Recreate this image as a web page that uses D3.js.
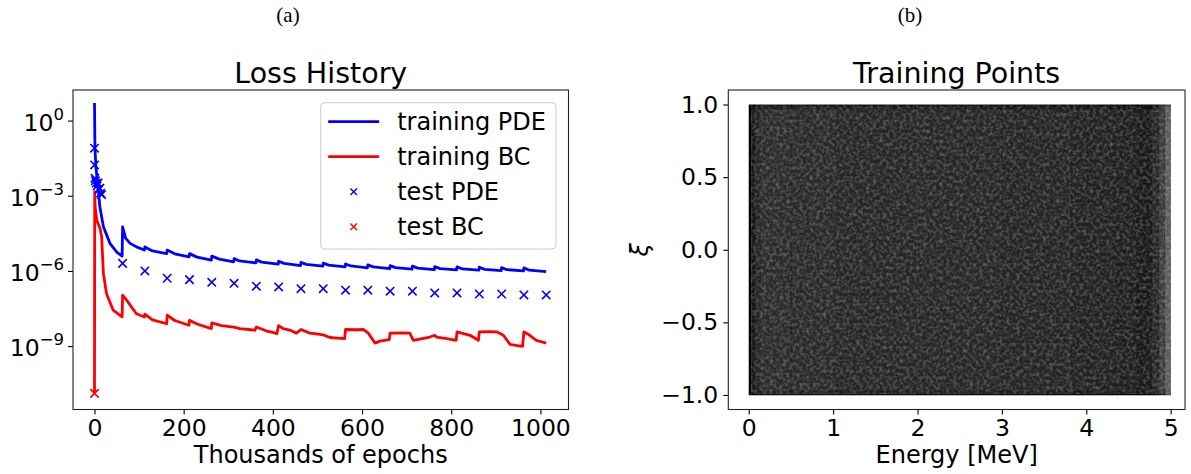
<!DOCTYPE html>
<html>
<head>
<meta charset="utf-8">
<script src="https://cdn.jsdelivr.net/npm/d3@7"></script>
<style>
  body { margin: 0; background: #fff; }
  svg text { font-family: "DejaVu Sans", sans-serif; fill: #000; }
</style>
</head>
<body>
<svg id="fig" width="1191" height="474"></svg>
<script>
// ---- panel (a): loss history, x in thousands of epochs ----
const trainPdeEpochs = [0, 1, 3, 8, 12, 20, 35, 50, 62, 63, 70, 80, 94, 112, 113, 130, 162, 163, 180, 212,
  213, 230, 262, 263, 280, 312, 313, 325, 362, 363, 375, 412, 413, 425, 462, 463, 475, 512,
  513, 525, 562, 563, 575, 612, 613, 625, 662, 663, 675, 712, 713, 725, 762, 763, 775, 812,
  813, 825, 862, 863, 875, 912, 913, 925, 962, 963, 975, 1013];
const trainPdeLoss = [5.0, 9.1e-2, 1.45e-2, 2.3e-3, 3.6e-4, 5.75e-5, 1.23e-5, 5.6e-6, 3.9e-6, 5.75e-5, 2.0e-5, 1.26e-5, 9.1e-6, 6.8e-6, 9.1e-6, 6.3e-6, 4.9e-6, 6.8e-6, 4.8e-6, 3.6e-6,
  4.9e-6, 3.55e-6, 2.7e-6, 3.9e-6, 2.95e-6, 2.3e-6, 3.1e-6, 2.5e-6, 2.1e-6, 2.75e-6, 2.24e-6, 1.86e-6, 2.45e-6, 2.0e-6, 1.62e-6, 2.19e-6, 1.82e-6, 1.55e-6,
  2.04e-6, 1.7e-6, 1.45e-6, 1.9e-6, 1.58e-6, 1.32e-6, 1.74e-6, 1.45e-6, 1.23e-6, 1.62e-6, 1.35e-6, 1.17e-6, 1.55e-6, 1.29e-6, 1.12e-6, 1.48e-6, 1.23e-6, 1.1e-6,
  1.45e-6, 1.2e-6, 1.07e-6, 1.41e-6, 1.15e-6, 1.02e-6, 1.35e-6, 1.12e-6, 1.0e-6, 1.32e-6, 1.07e-6, 9.3e-7];

const trainBcEpochs = [0, 0.5, 1.5, 5, 12.5, 16, 20, 27, 42, 62, 63, 72, 94, 112, 113, 130, 162, 163, 180, 212,
  213, 230, 262, 263, 285, 312, 326, 345, 360, 363, 386, 398, 409, 413, 423, 440, 453, 463, 483, 497, 513, 528, 545, 561,
  563, 585, 603, 614, 629, 640, 661, 663, 690, 707, 715, 735, 752, 763, 767, 790, 811, 813, 842, 861, 863, 885, 902, 917,
  932, 948, 960, 963, 976, 991, 1013];
const trainBcLoss = [1.3e-11, 1.45e-3, 3.6e-4, 1.07e-4, 4.9e-5, 2.3e-5, 7.8e-7, 1.23e-7, 2.7e-8, 1.45e-8, 1.07e-7, 6.8e-8, 1.95e-8, 1.45e-8, 1.9e-8, 1.12e-8, 7.8e-9, 1.7e-8, 1.05e-8, 6.8e-9,
  1.07e-8, 7.6e-9, 5.0e-9, 8.5e-9, 6.6e-9, 5.75e-9, 5.0e-9, 4.6e-9, 4.3e-9, 5.75e-9, 4.0e-9, 3.6e-9, 3.16e-9, 6.6e-9, 5.0e-9, 4.2e-9, 3.3e-9, 4.6e-9, 3.3e-9, 3.1e-9, 2.8e-9, 2.2e-9, 2.1e-9, 2.0e-9,
  4.6e-9, 4.5e-9, 4.6e-9, 3.3e-9, 1.32e-9, 1.58e-9, 1.82e-9, 3.3e-9, 3.4e-9, 3.3e-9, 1.7e-9, 2.0e-9, 2.3e-9, 2.7e-9, 2.3e-9, 2.0e-9, 1.7e-9, 3.7e-9, 2.7e-9, 1.7e-9, 3.7e-9, 3.8e-9, 3.7e-9, 2.7e-9,
  1.17e-9, 1.05e-9, 9.8e-10, 3.7e-9, 2.7e-9, 1.7e-9, 1.32e-9];

const testPdeEpochs = [0, 0.3, 1, 2, 4, 6, 8, 10, 12, 14, 16,
  63, 113, 163, 213, 263, 313, 363, 413, 463, 513, 563, 613, 663, 713, 763, 813, 863, 913, 963, 1013];
const testPdeLoss = [7.9e-2, 1.7e-2, 5.0e-3, 4.0e-3, 3.2e-3, 2.5e-3, 3.2e-3, 1.8e-3, 2.0e-3, 1.26e-3, 1.1e-3,
  2.0e-6, 1.0e-6, 5.1e-7, 4.5e-7, 3.5e-7, 3.2e-7, 2.45e-7, 2.3e-7, 1.95e-7, 1.95e-7, 1.7e-7, 1.7e-7, 1.55e-7, 1.55e-7, 1.32e-7, 1.32e-7, 1.2e-7, 1.2e-7, 1.1e-7, 1.1e-7];

const testBcEpochs = [0];
const testBcLoss = [1.3e-11];

const epochTicks = [0, 200, 400, 600, 800, 1000];
const lossTickExps = [0, -3, -6, -9];
const legendLabels = ["training PDE", "training BC", "test PDE", "test BC"];

// ---- panel (b): training points, shade ----
const energyTicks = [0, 1, 2, 3, 4, 5];
const xiTicks = [1.0, 0.5, 0.0, -0.5, -1.0];
const energyBinEdges = [0, 0.03, 0.08, 0.15, 0.5, 1.0, 2.0, 3.0, 3.8, 4.3, 4.6, 4.78, 4.86, 4.93, 5.0];
const energyShade = [0.98, 0.92, 0.86, 0.83, 0.84, 0.85, 0.85, 0.86, 0.87, 0.88, 0.9, 0.85, 0.76, 0.64];
const xiBinEdges = [-1, -0.99, -0.97, 0.97, 0.99, 1];
const xiShade = [1.12, 1.04, 1.0, 1.04, 1.12];

const svg = d3.select("#fig");
const fontSize = 24;
const tickFont = 23.5;

const box = { left: 73, right: 568.5, top: 90, bottom: 409.5 };
const boxB = { left: 728.3, right: 1185, top: 90, bottom: 409.5 };

// panel labels
svg.append("text").attr("x", 288).attr("y", 22).attr("text-anchor", "middle")
  .style("font-family", "'Liberation Serif', serif").style("font-size", "21px").text("(a)");
svg.append("text").attr("x", 910).attr("y", 22).attr("text-anchor", "middle")
  .style("font-family", "'Liberation Serif', serif").style("font-size", "21px").text("(b)");

// ===== panel (a) =====
const xA = d3.scaleLinear().domain([-48.2, 1063]).range([box.left, box.right]);
const yA = d3.scaleLog().domain([Math.pow(10, 1.22), Math.pow(10, -11.53)]).range([box.top, box.bottom]);

svg.append("clipPath").attr("id", "clipA").append("rect")
  .attr("x", box.left).attr("y", box.top)
  .attr("width", box.right - box.left).attr("height", box.bottom - box.top);

const plotA = svg.append("g").attr("clip-path", "url(#clipA)");

const lossLine = d3.line()
  .x((d) => xA(d[0]))
  .y((d) => yA(d[1]));

const zip = (a, b) => a.map((v, i) => [v, b[i]]);

plotA.append("path")
  .datum(zip(trainPdeEpochs, trainPdeLoss))
  .attr("d", lossLine)
  .style("fill", "none").style("stroke", "#0000ff").style("stroke-width", 2.8)
  .style("stroke-linejoin", "round");

plotA.append("path")
  .datum(zip(trainBcEpochs, trainBcLoss))
  .attr("d", lossLine)
  .style("fill", "none").style("stroke", "#ff0000").style("stroke-width", 2.8)
  .style("stroke-linejoin", "round");

const crossPath = (r) => `M${-r},${-r}L${r},${r}M${-r},${r}L${r},${-r}`;

const drawCrosses = (g, data, color, r) => {
  g.selectAll(null)
    .data(data)
    .enter()
    .append("path")
    .attr("transform", (d) => `translate(${xA(d[0])},${yA(d[1])})`)
    .attr("d", crossPath(r))
    .style("stroke", color).style("stroke-width", 1.6).style("fill", "none");
};
drawCrosses(plotA, zip(testPdeEpochs, testPdeLoss), "#0000ff", 4.2);
drawCrosses(plotA, zip(testBcEpochs, testBcLoss), "#ff0000", 4.2);

// axes of (a)
const axisA = svg.append("g");
axisA.append("g")
  .attr("transform", `translate(0,${box.bottom})`)
  .call(d3.axisBottom(xA).tickValues(epochTicks).tickSize(5).tickPadding(5).tickFormat(d3.format("d")))
  .call((g) => g.select(".domain").remove())
  .call((g) => g.selectAll("text").style("font-size", tickFont + "px"));

axisA.append("g")
  .attr("transform", `translate(${box.left},0)`)
  .call(d3.axisLeft(yA).tickValues(lossTickExps.map((e) => Math.pow(10, e))).tickSize(5).tickFormat(""))
  .call((g) => g.select(".domain").remove());

lossTickExps.forEach((e) => {
  const t = svg.append("text")
    .attr("x", box.left - 9)
    .attr("y", yA(Math.pow(10, e)) + 10)
    .attr("text-anchor", "end")
    .style("font-size", tickFont + "px");
  t.append("tspan").text("10");
  t.append("tspan").attr("dy", -11).style("font-size", "16.5px")
    .text(e === 0 ? "0" : "\u2212" + Math.abs(e));
});

svg.append("rect")
  .attr("x", box.left).attr("y", box.top)
  .attr("width", box.right - box.left).attr("height", box.bottom - box.top)
  .style("fill", "none").style("stroke", "#222").style("stroke-width", 1.1);

svg.append("text")
  .attr("x", (box.left + box.right) / 2).attr("y", 83)
  .attr("text-anchor", "middle").style("font-size", "28.5px").text("Loss History");

svg.append("text")
  .attr("x", (box.left + box.right) / 2).attr("y", 463)
  .attr("text-anchor", "middle").style("font-size", fontSize + "px").text("Thousands of epochs");

// legend
const legend = svg.append("g").attr("transform", "translate(320.7,102.7)");
legend.append("rect")
  .attr("width", 235.3).attr("height", 146.3).attr("rx", 4)
  .style("fill", "#fff").style("fill-opacity", 0.8)
  .style("stroke", "#cccccc").style("stroke-width", 1);

const legendColor = ["#0000ff", "#ff0000", "#0000ff", "#ff0000"];
const legendRowY = d3.scaleLinear().domain([0, 3]).range([19, 124]);

legendLabels.forEach((label, i) => {
  const cy = legendRowY(i);
  if (i < 2) {
    legend.append("line")
      .attr("x1", 7.5).attr("x2", 58.5).attr("y1", cy).attr("y2", cy)
      .style("stroke", legendColor[i]).style("stroke-width", 2.8);
  } else {
    legend.append("path")
      .attr("transform", `translate(33,${cy})`)
      .attr("d", crossPath(3.3))
      .style("stroke", legendColor[i]).style("stroke-width", 1.4).style("fill", "none");
  }
  legend.append("text")
    .attr("x", 76.5).attr("y", cy + 8.6)
    .style("font-size", fontSize + "px").text(label);
});

// ===== panel (b) =====
const xB = d3.scaleLinear().domain([-0.242, 5.17]).range([boxB.left, boxB.right]);
const yB = d3.scaleLinear().domain([-1.1, 1.1]).range([boxB.bottom, boxB.top]);

const defs = svg.append("defs");
const grain = defs.append("filter").attr("id", "grain")
  .attr("x", 0).attr("y", 0).attr("width", 1).attr("height", 1);
grain.append("feTurbulence")
  .attr("type", "fractalNoise").attr("baseFrequency", 0.3)
  .attr("numOctaves", 2).attr("seed", 7);
grain.append("feColorMatrix")
  .attr("type", "matrix")
  .attr("values", "0 0 0 0 1  0 0 0 0 1  0 0 0 0 1  2.0 0 0 0 -0.8");

const cells = [];
energyShade.forEach((s, i) => {
  xiShade.forEach((f, j) => {
    cells.push({
      e0: energyBinEdges[i], e1: energyBinEdges[i + 1],
      x0: xiBinEdges[j], x1: xiBinEdges[j + 1],
      a: Math.min(1, s * f),
    });
  });
});

svg.append("g")
  .selectAll("rect")
  .data(cells)
  .enter()
  .append("rect")
  .attr("x", (d) => xB(d.e0))
  .attr("y", (d) => yB(d.x1))
  .attr("width", (d) => xB(d.e1) - xB(d.e0) + 0.3)
  .attr("height", (d) => yB(d.x0) - yB(d.x1) + 0.3)
  .style("fill", "#000")
  .style("fill-opacity", (d) => d.a);

svg.append("rect")
  .attr("x", xB(0.03)).attr("y", yB(0.99))
  .attr("width", xB(5) - xB(0.03)).attr("height", yB(-0.99) - yB(0.99))
  .attr("filter", "url(#grain)")
  .style("opacity", 0.3);

svg.append("g")
  .attr("transform", `translate(0,${boxB.bottom})`)
  .call(d3.axisBottom(xB).tickValues(energyTicks).tickSize(5).tickPadding(5).tickFormat(d3.format("d")))
  .call((g) => g.select(".domain").remove())
  .call((g) => g.selectAll("text").style("font-size", tickFont + "px"));

svg.append("g")
  .attr("transform", `translate(${boxB.left},0)`)
  .call(d3.axisLeft(yB).tickValues(xiTicks).tickSize(5).tickPadding(5)
    .tickFormat((d) => d3.format(".1f")(d).replace("-", "\u2212")))
  .call((g) => g.select(".domain").remove())
  .call((g) => g.selectAll("text").style("font-size", tickFont + "px"));

svg.append("rect")
  .attr("x", boxB.left).attr("y", boxB.top)
  .attr("width", boxB.right - boxB.left).attr("height", boxB.bottom - boxB.top)
  .style("fill", "none").style("stroke", "#222").style("stroke-width", 1.1);

svg.append("text")
  .attr("x", (boxB.left + boxB.right) / 2).attr("y", 83)
  .attr("text-anchor", "middle").style("font-size", "28.5px").text("Training Points");

svg.append("text")
  .attr("x", (boxB.left + boxB.right) / 2).attr("y", 463)
  .attr("text-anchor", "middle").style("font-size", fontSize + "px").text("Energy [MeV]");

svg.append("text")
  .attr("transform", `translate(648,${yB(0)}) rotate(-90)`)
  .attr("text-anchor", "middle")
  .style("font-size", fontSize + "px").style("font-style", "italic").text("\u03be");

svg.selectAll(".tick line").style("stroke", "#000").style("stroke-width", 1.1);
svg.selectAll(".tick text").style("fill", "#000");
</script>
</body>
</html>
